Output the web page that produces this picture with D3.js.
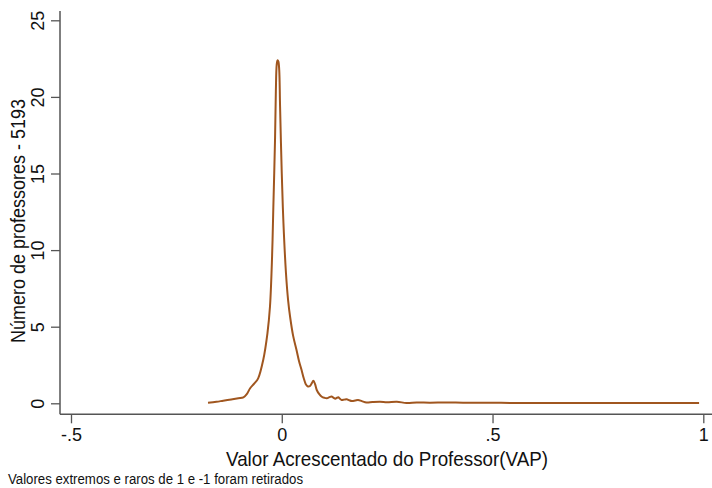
<!DOCTYPE html>
<html>
<head>
<meta charset="utf-8">
<script src="https://cdn.jsdelivr.net/npm/d3@7"></script>
<style>
  html, body { margin: 0; padding: 0; background: #fff; }
  svg { display: block; }
  text { font-family: "Liberation Sans", Arial, sans-serif; fill: #111; }
</style>
</head>
<body>
<svg id="chart" width="712" height="488"></svg>
<script>
// Kernel density of teacher value-added (VAP)
const vapX = [-0.175, -0.155, -0.139, -0.120, -0.103, -0.091, -0.083, -0.075, -0.065, -0.056, -0.044,
  -0.034, -0.028, -0.023, -0.020, -0.016, -0.014, -0.012, -0.010, -0.008, -0.006, -0.004, 0.000,
  0.004, 0.010, 0.015, 0.020, 0.027, 0.035, 0.041, 0.047, 0.052, 0.057, 0.062, 0.067, 0.071, 0.075,
  0.079, 0.083, 0.089, 0.095, 0.101, 0.107, 0.113, 0.118, 0.123, 0.127, 0.131, 0.134, 0.138, 0.142,
  0.148, 0.154, 0.160, 0.166, 0.174, 0.181, 0.190, 0.201, 0.215, 0.233, 0.250, 0.273, 0.296, 0.320,
  0.352, 0.391, 0.430, 0.470, 0.520, 0.580, 0.640, 0.700, 0.760, 0.820, 0.880, 0.940, 0.990];
const density = [0.04, 0.10, 0.17, 0.25, 0.33, 0.39, 0.60, 0.98, 1.30, 1.63, 2.83,
  4.57, 6.30, 9.57, 12.8, 17.2, 20.4, 22.1, 22.4, 22.3, 21.75, 19.36, 15.0,
  11.75, 8.49, 6.74, 5.6, 4.4, 3.48, 2.75, 2.17, 1.65, 1.25, 1.10, 1.13, 1.30, 1.47,
  1.25, 0.87, 0.60, 0.43, 0.36, 0.33, 0.40, 0.45, 0.36, 0.30, 0.36, 0.39, 0.30, 0.22,
  0.24, 0.26, 0.20, 0.15, 0.18, 0.22, 0.14, 0.05, 0.08, 0.10, 0.07, 0.10, 0.02, 0.05,
  0.04, 0.06, 0.04, 0.04, 0.03, 0.02, 0.02, 0.02, 0.02, 0.02, 0.02, 0.02, 0.02];
const xTicks = [-0.5, 0, 0.5, 1];
const xTickLabels = ["-.5", "0", ".5", "1"];
const yTicks = [0, 5, 10, 15, 20, 25];
const yTickLabels = ["0", "5", "10", "15", "20", "25"];
const xTitle = "Valor Acrescentado do Professor(VAP)";
const yTitle = "Número de professores - 5193";
const note = "Valores extremos e raros de 1 e -1 foram retirados";

const svg = d3.select("#chart");
const x = d3.scaleLinear().domain([-0.5, 1]).range([71, 703.3]);
const y = d3.scaleLinear().domain([0, 25]).range([403.3, 20.3]);
const axisColor = "#555";
const axisX = 60, axisY = 414.3;

// Y axis
const yAxis = svg.append("g").attr("transform", `translate(${axisX},0)`)
  .call(d3.axisLeft(y).tickValues(yTicks).tickFormat((d, i) => yTickLabels[i]).tickSize(9).tickPadding(0));
yAxis.select(".domain").remove();
yAxis.selectAll(".tick line").attr("stroke", axisColor).attr("stroke-width", 1.3);
yAxis.selectAll(".tick text").remove();
yAxis.selectAll(".tick").append("text")
  .attr("transform", "translate(-22,0) rotate(-90)")
  .attr("text-anchor", "middle").attr("dy", "0.36em")
  .style("font-size", "18px").text((d, i) => yTickLabels[i]);
svg.append("line").attr("x1", axisX).attr("x2", axisX).attr("y1", 11).attr("y2", axisY)
  .attr("stroke", axisColor).attr("stroke-width", 1.5);

// X axis
const xAxis = svg.append("g").attr("transform", `translate(0,${axisY})`)
  .call(d3.axisBottom(x).tickValues(xTicks).tickFormat((d, i) => xTickLabels[i]).tickSize(9).tickPadding(5));
xAxis.select(".domain").remove();
xAxis.selectAll(".tick line").attr("stroke", axisColor).attr("stroke-width", 1.3);
xAxis.selectAll(".tick text").style("font-size", "18px").attr("fill", "#111")
  .style("font-family", '"Liberation Sans", Arial, sans-serif');
svg.append("line").attr("x1", axisX).attr("x2", 712).attr("y1", axisY).attr("y2", axisY)
  .attr("stroke", axisColor).attr("stroke-width", 1.5);

// Density curve
const pts = vapX.map((v, i) => [v, density[i]]);
svg.append("path").datum(pts)
  .attr("fill", "none").attr("stroke", "#a0561f").attr("stroke-width", 2)
  .attr("stroke-linejoin", "round")
  .attr("d", d3.line().x(d => x(d[0])).y(d => y(d[1])).curve(d3.curveCatmullRom.alpha(0.5)));

// Titles (narrow-looking lettering in the original)
svg.append("text").attr("x", 226).attr("y", 466)
  .attr("textLength", 322).attr("lengthAdjust", "spacingAndGlyphs")
  .style("font-size", "21px").text(xTitle);
svg.append("text").attr("transform", "translate(25,343) rotate(-90)")
  .attr("textLength", 244).attr("lengthAdjust", "spacingAndGlyphs")
  .style("font-size", "20px").text(yTitle);
svg.append("text").attr("x", 8).attr("y", 484)
  .attr("textLength", 295).attr("lengthAdjust", "spacingAndGlyphs")
  .style("font-size", "14px").text(note);
</script>
</body>
</html>
